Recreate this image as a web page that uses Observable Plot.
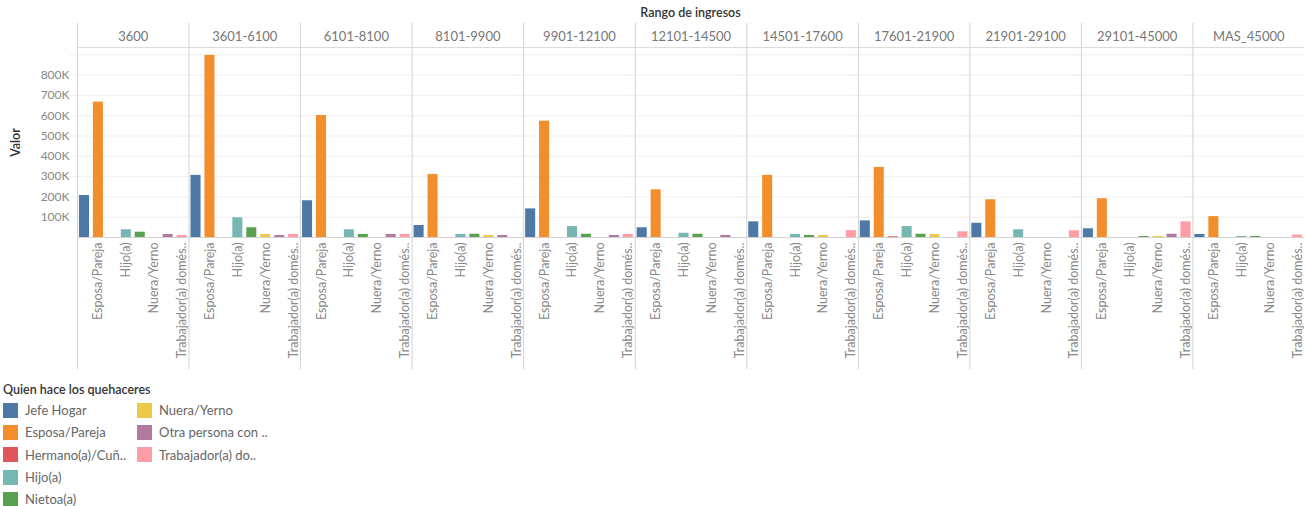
<!DOCTYPE html>
<html>
<head>
<meta charset="utf-8">
<script src="https://cdn.jsdelivr.net/npm/d3@7"></script>
<script src="https://cdn.jsdelivr.net/npm/@observablehq/plot@0.6"></script>
<style>
  html, body { margin: 0; padding: 0; background: #fff; }
  body { position: relative; width: 1307px; height: 506px; overflow: hidden; font-family: Lato, "Open Sans", sans-serif; }
  #title { position: absolute; left: 77px; width: 1227px; top: 5px; text-align: center; font-size: 12.5px; color: #333; font-weight: 600; }
  #chart { position: absolute; left: 0; top: 23px; }
  #legend { position: absolute; left: 3px; top: 382px; }
  #legend .lt { font-size: 12.5px; color: #333; font-weight: 600; height: 17px; }
  #legend .cols { display: flex; }
  #legend .col { width: 134px; }
  #legend .item { display: flex; align-items: center; height: 22.3px; font-size: 13px; color: #666; }
  #legend .sw { width: 15px; height: 15px; margin-right: 7px; flex: none; }
  svg [aria-label="y-axis label"] text { fill: #333; font-weight: 600; font-size: 12.5px; }
</style>
</head>
<body>
<div id="title">Rango de ingresos</div>
<div id="chart"></div>
<div id="legend"></div>
<script>
// Facets: income ranges
const ranges = ["3600", "3601-6100", "6101-8100", "8101-9900", "9901-12100", "12101-14500",
  "14501-17600", "17601-21900", "21901-29100", "29101-45000", "MAS_45000"];

// Who does the chores (x categories / colour)
const roles = ["Jefe Hogar", "Esposa/Pareja", "Hermano(a)/Cuñado(a)", "Hijo(a)", "Nietoa(a)",
  "Nuera/Yerno", "Otra persona con parentesco", "Trabajador(a) doméstico(a)"];
const legendLabels = ["Jefe Hogar", "Esposa/Pareja", "Hermano(a)/Cuñ..", "Hijo(a)", "Nietoa(a)",
  "Nuera/Yerno", "Otra persona con ..", "Trabajador(a) do.."];
const axisLabels = ["", "Esposa/Pareja", "", "Hijo(a)", "", "Nuera/Yerno", "", "Trabajador(a) domés.."];
const colors = ["#4e79a7", "#f28e2b", "#e15759", "#76b7b2", "#59a14f", "#edc948", "#b07aa1", "#ff9da7"];

// Values (thousands), one entry per income range
const jefeHogar   = [207, 306, 181,  59, 141,  48,  77,  82,  70,  43,  15];
const esposa      = [667, 897, 601, 310, 573, 235, 306, 345, 186, 191, 103];
const hermano     = [  0,   0,   0,   0,   0,   0,   0,   4,   0,   0,   0];
const hijo        = [ 38,  97,  38,  15,  54,  21,  15,  54,  38,   0,   5];
const nieto       = [ 26,  48,  15,  16,  16,  16,  10,  16,   0,   5,   5];
const nuera       = [  0,  15,   0,  10,   0,   0,  10,  15,   0,   5,   0];
const otra        = [ 15,  10,  15,  10,  10,  10,   0,   0,   0,  16,   0];
const trabajador  = [ 10,  15,  15,   0,  15,   0,  34,  28,  33,  77,  12];

const yTicks = [100000, 200000, 300000, 400000, 500000, 600000, 700000, 800000];
const gridTicks = [100000, 200000, 300000, 400000, 500000, 600000, 700000, 800000, 900000];
const yMax = 936000;

const series = [jefeHogar, esposa, hermano, hijo, nieto, nuera, otra, trabajador];
const table = [];
ranges.forEach((r, i) => {
  roles.forEach((role, j) => {
    const v = series[j][i];
    if (v > 0) table.push({range: r, role, value: v * 1000});
  });
});

const W = 1307, H = 350, ML = 77, MR = 3, MT = 24, MB = 136;
const facetW = (W - ML - MR) / ranges.length;
const step = facetW / roles.length;
const axisLabelMap = new Map(roles.map((r, i) => [r, axisLabels[i]]));

const plot = Plot.plot({
  width: W, height: H,
  marginLeft: ML, marginRight: MR, marginTop: MT, marginBottom: MB,
  style: {fontFamily: "Lato, 'Open Sans', sans-serif", fontSize: "12px", background: "white", color: "#777", overflow: "visible"},
  fx: {domain: ranges, padding: 0, round: false, label: null},
  x: {domain: roles, paddingInner: 0.28, paddingOuter: 0.14, round: false, label: null},
  y: {domain: [0, yMax], label: "Valor", labelArrow: "none"},
  color: {domain: roles, range: colors},
  marks: [
    Plot.ruleY(gridTicks, {stroke: "#f0f0f0", strokeWidth: 1, insetLeft: -7}),
    Plot.ruleY([yMax], {stroke: "#dcdcdc"}),
    Plot.ruleX([roles[0]], {dx: -step / 2, stroke: "#d2d2d2", insetTop: -MT, insetBottom: -132}),
    Plot.barY(table, {fx: "range", x: "role", y: "value", fill: "role"}),
    Plot.ruleY([0], {stroke: "#d2d2d2"}),
    Plot.axisY({ticks: yTicks, tickFormat: d => d / 1000 + "K", tickSize: 0, tickPadding: 8,
      label: "Valor", labelArrow: "none", labelAnchor: "center", labelOffset: 66, fill: "#888"}),
    Plot.axisX({tickFormat: d => axisLabelMap.get(d), tickRotate: -90, tickSize: 0, tickPadding: 5,
      label: null, fill: "#888", fontSize: 12.5}),
    Plot.axisFx({anchor: "top", tickSize: 0, tickPadding: 7, label: null, fontSize: 13, fill: "#777"})
  ]
});
document.getElementById("chart").appendChild(plot);

// Legend (HTML, below the SVG)
const legend = d3.select("#legend");
legend.append("div").attr("class", "lt").text("Quien hace los quehaceres");
const cols = legend.append("div").attr("class", "cols");
const colGroups = [[0, 1, 2, 3, 4], [5, 6, 7]];
colGroups.forEach(g => {
  const c = cols.append("div").attr("class", "col");
  g.forEach(k => {
    const it = c.append("div").attr("class", "item");
    it.append("div").attr("class", "sw").style("background", colors[k]);
    it.append("span").text(legendLabels[k]);
  });
});
</script>
</body>
</html>
